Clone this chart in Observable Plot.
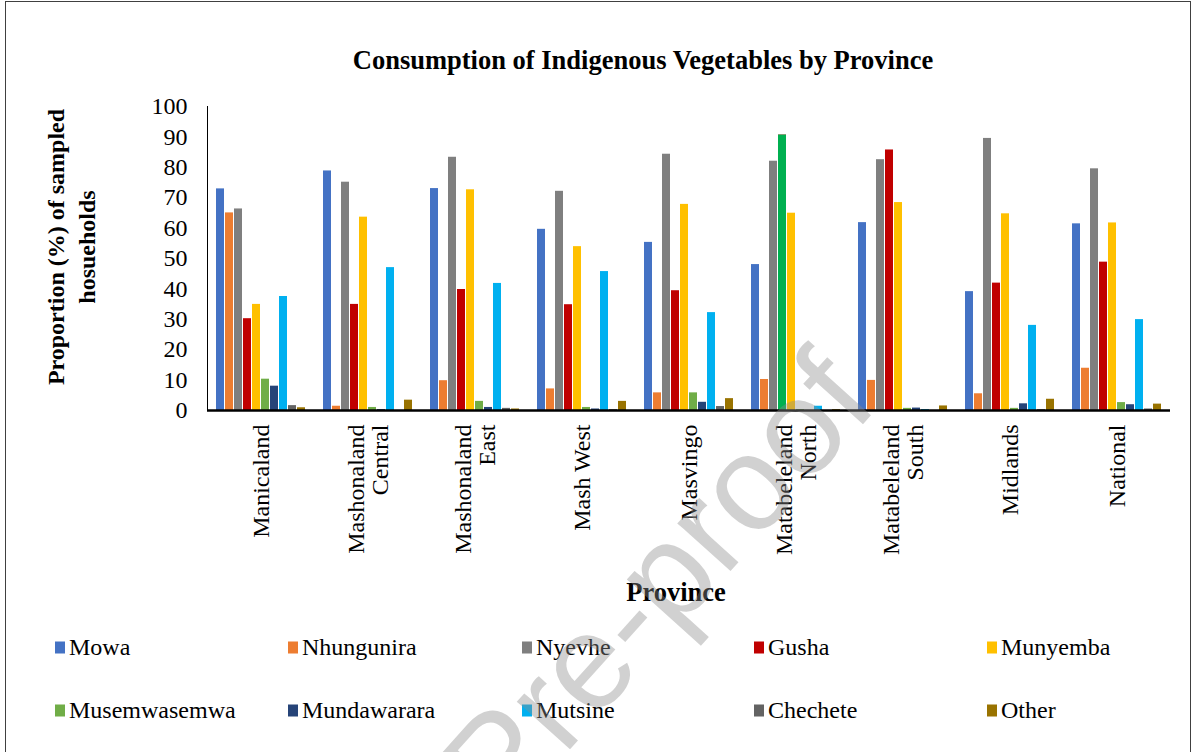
<!DOCTYPE html>
<html>
<head>
<meta charset="utf-8">
<script src="https://cdn.jsdelivr.net/npm/d3@7"></script>
<script src="https://cdn.jsdelivr.net/npm/@observablehq/plot@0.6"></script>
<style>
  html, body { margin: 0; padding: 0; background: #fff; }
  #wrap { position: relative; width: 1195px; height: 752px; overflow: hidden; font-family: "Liberation Serif", "Times New Roman", serif; color: #000; }
  #frame { position: absolute; left: 5px; top: 1px; width: 1186px; height: 760px; border: 1.5px solid #404040; box-sizing: border-box; }
  #title { position: absolute; left: 0; width: 1286px; top: 45px; text-align: center; font-weight: bold; font-size: 26.5px; }
  #chart { position: absolute; left: 0; top: 90px; }
  #ylabel { position: absolute; left: 72px; top: 247px; transform: translate(-50%, -50%) rotate(-90deg); text-align: center; font-weight: bold; font-size: 24px; line-height: 31px; white-space: nowrap; }
  #xlabel { position: absolute; left: 676px; top: 592px; transform: translate(-50%, -50%); font-weight: bold; font-size: 26.5px; }
  .leg { position: absolute; display: flex; align-items: center; font-size: 24px; white-space: nowrap; transform: translateY(-50%); }
  .leg span.sw { display: inline-block; width: 10px; height: 12px; margin-right: 4px; }
  #wm { position: absolute; left: 0; top: 0; pointer-events: none; }
</style>
</head>
<body>
<div id="wrap">
  <div id="frame"></div>
  <div id="title">Consumption of Indigenous Vegetables by Province</div>
  <div id="chart"></div>
  <div id="ylabel">Proportion (%) of sampled<br>hosueholds</div>
  <div id="xlabel">Province</div>
  <div id="legend"></div>
  <svg id="wm" width="1195" height="752"><text id="wmt" font-family="Liberation Sans, Arial, sans-serif" font-size="135" fill="rgba(140,140,140,0.4)" text-anchor="end" transform="translate(880,405) rotate(-48)">Pre-proof</text></svg>
</div>
<script>
const provinces = ["Manicaland", "Mashonaland Central", "Mashonaland East", "Mash West", "Masvingo", "Matabeleland North", "Matabeleland South", "Midlands", "National"];
const provinceLabels = ["Manicaland", "Mashonaland\nCentral", "Mashonaland\nEast", "Mash West", "Masvingo", "Matabeleland\nNorth", "Matabeleland\nSouth", "Midlands", "National"];
const seriesNames = ["Mowa", "Nhungunira", "Nyevhe", "Gusha", "Munyemba", "Musemwasemwa", "Mundawarara", "Mutsine", "Chechete", "Other"];
const seriesColors = ["#4472C4", "#ED7D31", "#7F7F7F", "#C00000", "#FFC000", "#70AD47", "#264478", "#00B0F0", "#636363", "#997300"];

const mowa         = [72.9, 78.8, 73.0, 59.6, 55.3, 48.0, 61.8, 39.1, 61.4];
const nhungunira   = [65.0,  1.4,  9.8,  7.1,  5.8, 10.2,  9.9,  5.5, 13.9];
const nyevhe       = [66.3, 75.1, 83.3, 72.1, 84.3, 82.0, 82.5, 89.5, 79.5];
const gusha        = [30.2, 34.9, 39.8, 34.8, 39.4, 90.6, 85.7, 41.9, 48.8];
const munyemba     = [34.9, 63.6, 72.6, 53.9, 67.8, 64.9, 68.4, 64.7, 61.7];
const musemwasemwa = [10.3,  1.0,  3.0,  1.0,  5.8,  0.3,  0.7,  0.7,  2.6];
const mundawarara  = [ 8.0,  0.3,  1.0,  0.5,  2.7,  0.0,  0.8,  2.2,  1.9];
const mutsine      = [37.5, 47.0, 41.8, 45.7, 32.2,  1.4,  0.3, 28.0, 29.9];
const chechete     = [ 1.6,  0.0,  0.7,  0.3,  1.3,  0.0,  0.0,  0.3,  0.5];
const other        = [ 0.9,  3.4,  0.5,  3.0,  3.9,  0.3,  1.5,  3.7,  2.1];

// one bar highlighted in a different colour in the original (Matabeleland North, Gusha)
const highlightProvince = "Matabeleland North";
const highlightSeries = "Gusha";
const highlightColor = "#00B050";

const yTicks = [0, 10, 20, 30, 40, 50, 60, 70, 80, 90, 100];

const seriesValues = [mowa, nhungunira, nyevhe, gusha, munyemba, musemwasemwa, mundawarara, mutsine, chechete, other];
const data = provinces.flatMap((p, i) => seriesNames.map((s, j) => ({province: p, series: s, value: seriesValues[j][i]})));
const highlighted = data.filter(d => d.province === highlightProvince && d.series === highlightSeries);
const labelOf = new Map(provinces.map((p, i) => [p, provinceLabels[i]]));

const chart = Plot.plot({
  width: 1195,
  height: 470,
  marginTop: 16,
  marginBottom: 150,
  marginLeft: 205,
  marginRight: 24,
  style: {fontFamily: "'Liberation Serif', 'Times New Roman', serif", fontSize: "24px", color: "#000", background: "transparent", overflow: "visible"},
  fx: {domain: provinces, paddingInner: 0, paddingOuter: 0, label: null, tickFormat: d => labelOf.get(d), tickRotate: -90, tickSize: 0, tickPadding: 14},
  x: {domain: seriesNames, paddingInner: 0.12, paddingOuter: 0.6, axis: null},
  y: {domain: [0, 100], ticks: yTicks, tickSize: 0, tickPadding: 20, label: null, line: true},
  color: {domain: seriesNames, range: seriesColors},
  marks: [
    Plot.barY(data, {fx: "province", x: "series", y: "value", fill: "series"}),
    Plot.barY(highlighted, {fx: "province", x: "series", y: "value", fill: highlightColor}),
    Plot.ruleY([0], {stroke: "#000", strokeWidth: 2.5})
  ]
});
document.getElementById("chart").appendChild(chart);

// legend
const legend = document.getElementById("legend");
const legX = [55, 288, 522, 754, 987];
const legY = [647, 710];
seriesNames.forEach((s, i) => {
  const el = document.createElement("div");
  el.className = "leg";
  el.style.left = legX[i % 5] + "px";
  el.style.top = legY[Math.floor(i / 5)] + "px";
  el.innerHTML = `<span class="sw" style="background:${seriesColors[i]}"></span>${s}`;
  legend.appendChild(el);
});
</script>
</body>
</html>
